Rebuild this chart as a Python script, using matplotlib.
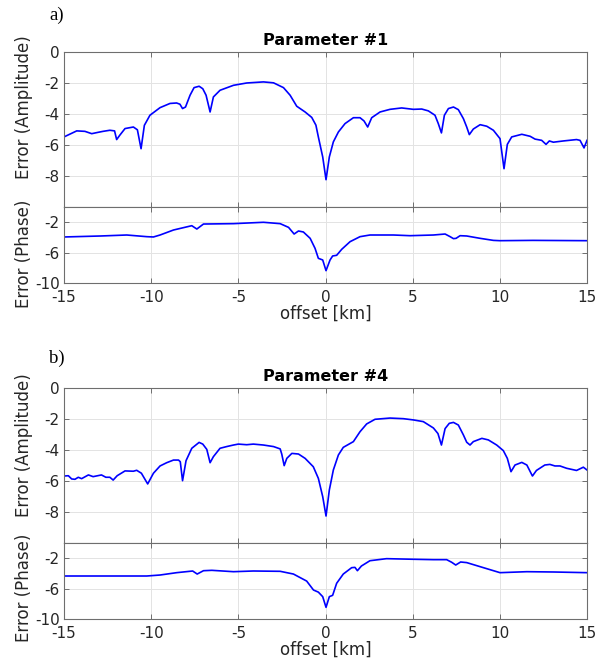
import matplotlib
matplotlib.use("Agg")
import matplotlib.pyplot as plt
import numpy as np

# ---------------- data ----------------
# Panel a) Parameter #1, amplitude error
a_amp_x = [-15, -14.27, -13.8, -13.41, -13.03, -12.76, -12.37, -12.1, -11.98, -11.8, -11.5,
           -11.02, -10.79, -10.58, -10.39, -10.07, -9.49, -8.92, -8.54, -8.35, -8.2, -8.03,
           -7.77, -7.54, -7.25, -7.04, -6.85, -6.62, -6.43, -6.05, -5.28, -4.52, -3.56, -2.98,
           -2.41, -2.03, -1.65, -1.17, -0.79, -0.55, -0.41, -0.16, 0.03, 0.22, 0.45, 0.74,
           1.12, 1.6, 1.98, 2.21, 2.42, 2.65, 3.13, 3.7, 4.37, 5.04, 5.52, 5.9, 6.28, 6.47,
           6.65, 6.82, 7.05, 7.34, 7.62, 7.91, 8.1, 8.25, 8.48, 8.87, 9.25, 9.63, 10.01,
           10.24, 10.43, 10.68, 11.26, 11.74, 12.02, 12.4, 12.65, 12.84, 13.07, 13.64, 14.4,
           14.6, 14.83, 15.0]
a_amp_y = [-5.46, -5.07, -5.1, -5.25, -5.16, -5.1, -5.03, -5.07, -5.63, -5.35, -4.92,
           -4.82, -5.0, -6.22, -4.71, -4.06, -3.57, -3.3, -3.27, -3.35, -3.63, -3.53,
           -2.77, -2.28, -2.19, -2.35, -2.77, -3.85, -2.88, -2.45, -2.13, -1.98, -1.91, -1.97,
           -2.28, -2.77, -3.48, -3.85, -4.2, -4.7, -5.46, -6.75, -8.22, -6.75, -5.78, -5.14,
           -4.6, -4.22, -4.22, -4.43, -4.82, -4.22, -3.85, -3.68, -3.59, -3.68, -3.66, -3.78,
           -4.06, -4.6, -5.2, -4.06, -3.63, -3.53, -3.7, -4.28, -4.82, -5.31, -4.95, -4.67,
           -4.77, -5.03, -5.57, -7.51, -5.94, -5.46, -5.29, -5.42, -5.6, -5.68, -5.94, -5.72,
           -5.8, -5.72, -5.63, -5.68, -6.17, -5.68]

# Panel a) Parameter #1, phase error
a_ph_x = [-15, -12.9, -11.4, -10.25, -9.87, -9.49, -8.72, -7.67, -7.38, -7.0, -5.28, -3.56,
          -2.6, -2.12, -1.8, -1.55, -1.27, -0.88, -0.6, -0.41, -0.16, 0.03, 0.26, 0.41,
          0.64, 0.93, 1.41, 1.98, 2.55, 3.9, 4.85, 6.19, 6.86, 7.15, 7.34, 7.49, 7.72, 8.1,
          8.87, 9.63, 10.0, 11.9, 15.0]
a_ph_y = [-3.92, -3.79, -3.66, -3.88, -3.92, -3.66, -3.0, -2.43, -2.87, -2.21, -2.16, -1.98,
          -2.16, -2.65, -3.53, -3.13, -3.26, -4.1, -5.42, -6.74, -6.96, -8.37, -6.96, -6.43,
          -6.34, -5.55, -4.54, -3.88, -3.66, -3.66, -3.75, -3.66, -3.53, -3.88, -4.14, -4.1,
          -3.75, -3.79, -4.1, -4.37, -4.41, -4.37, -4.41]

# Panel b) Parameter #4, amplitude error
b_amp_x = [-15, -14.75, -14.56, -14.37, -14.18, -13.99, -13.6, -13.33, -12.85, -12.6, -12.37,
           -12.18, -11.95, -11.5, -11.02, -10.83, -10.56, -10.2, -9.87, -9.49, -9.11, -8.72,
           -8.43, -8.33, -8.2, -8.0, -7.67, -7.25, -7.04, -6.81, -6.62, -6.43, -6.05, -5.67,
           -5.28, -5.0, -4.52, -4.14, -3.56, -2.98, -2.6, -2.51, -2.37, -2.22, -1.93, -1.55,
           -1.17, -0.7, -0.41, -0.16, 0.03, 0.22, 0.45, 0.74, 1.02, 1.6, 1.98, 2.36, 2.84,
           3.7, 4.47, 5.04, 5.61, 6.19, 6.45, 6.65, 6.86, 7.1, 7.34, 7.62, 7.91, 8.1, 8.29,
           8.48, 8.97, 9.34, 9.82, 10.2, 10.43, 10.64, 10.87, 11.26, 11.55, 11.87, 12.1,
           12.58, 12.87, 13.16, 13.45, 13.83, 14.4, 14.79, 15.0]
b_amp_y = [-5.66, -5.64, -5.85, -5.87, -5.74, -5.83, -5.59, -5.7, -5.59, -5.74, -5.74,
           -5.92, -5.64, -5.33, -5.35, -5.29, -5.48, -6.17, -5.48, -5.01, -4.8, -4.63,
           -4.63, -4.74, -5.96, -4.67, -3.87, -3.49, -3.6, -3.94, -4.8, -4.41, -3.87, -3.76,
           -3.66, -3.6, -3.64, -3.6, -3.66, -3.76, -3.91, -4.24, -4.99, -4.52, -4.2, -4.24,
           -4.52, -5.06, -5.81, -6.99, -8.24, -6.56, -5.27, -4.3, -3.81, -3.44, -2.8, -2.3,
           -2.0, -1.92, -1.96, -2.04, -2.15, -2.56, -2.92, -3.66, -2.6, -2.26, -2.2, -2.37,
           -3.01, -3.48, -3.66, -3.44, -3.23, -3.33, -3.66, -4.02, -4.52, -5.38, -4.95,
           -4.78, -4.95, -5.66, -5.3, -4.95, -4.91, -5.01, -5.01, -5.16, -5.3, -5.09, -5.27]

# Panel b) Parameter #4, phase error
b_ph_x = [-15, -12.9, -10.25, -9.49, -8.54, -7.62, -7.36, -7.0, -6.52, -5.28, -4.14, -2.6,
          -1.84, -1.08, -0.69, -0.41, -0.16, 0.03, 0.22, 0.41, 0.64, 1.02, 1.5, 1.69, 1.83,
          2.06, 2.55, 3.5, 5.04, 6.19, 6.95, 7.24, 7.47, 7.75, 8.1, 9.06, 10.01, 11.55,
          13.07, 15.0]
b_ph_y = [-4.32, -4.32, -4.32, -4.19, -3.88, -3.66, -4.06, -3.62, -3.57, -3.75, -3.66, -3.7,
          -4.06, -4.99, -6.17, -6.45, -7.05, -8.46, -7.05, -6.87, -5.28, -4.06, -3.22, -3.18,
          -3.62, -3.0, -2.3, -2.03, -2.11, -2.16, -2.16, -2.51, -2.87, -2.47, -2.55, -3.22,
          -3.88, -3.75, -3.79, -3.88]

titles = ["Parameter #1", "Parameter #4"]
panel_labels = ["a)", "b)"]
x_ticks = [-15, -10, -5, 0, 5, 10, 15]
amp_ticks = [-8, -6, -4, -2, 0]
ph_ticks = [-10, -6, -2]

# ---------------- figure ----------------
plt.rcParams['font.family'] = ['DejaVu Sans']
plt.rcParams['axes.unicode_minus'] = False

W, H = 611, 666
fig = plt.figure(figsize=(W / 100, H / 100), dpi=100)

spine_c = '#6e6e6e'
grid_c = '#e3e3e3'
text_c = '#262626'
line_c = '#0000ff'


def px_rect(left, top, right, bottom):
    return [left / W, 1 - bottom / H, (right - left) / W, (bottom - top) / H]


def style(ax, yticks, show_xlabels):
    ax.set_xlim(-15, 15)
    ax.set_ylim(-10, 0)
    ax.set_xticks(x_ticks)
    ax.set_yticks(yticks)
    ax.grid(True, color=grid_c, linewidth=0.7)
    ax.set_axisbelow(True)
    for s in ax.spines.values():
        s.set_color(spine_c)
        s.set_linewidth(0.8)
    ax.tick_params(direction='in', length=3.6, width=0.7, color=spine_c,
                   top=True, right=True, labelsize=11, labelcolor=text_c, pad=3)
    ax.tick_params(axis='x', pad=5)
    if not show_xlabels:
        ax.tick_params(labelbottom=False)


# (amp x, amp y, phase x, phase y, amp top px, phase top px, phase bottom px,
#  amp ylabel centre px, phase ylabel centre px, panel label centre px)
panels = [
    (a_amp_x, a_amp_y, a_ph_x, a_ph_y, 52.3, 207.3, 283.0, 107.5, 254.0, 15.0),
    (b_amp_x, b_amp_y, b_ph_x, b_ph_y, 388.3, 543.3, 619.0, 445.5, 587.5, 358.5),
]

for i, (ax_, ay_, px_, py_, t_amp, t_ph, b_ph, yl_a, yl_p, pl_y) in enumerate(panels):
    ax1 = fig.add_axes(px_rect(64, t_amp, 587, t_ph))
    ax2 = fig.add_axes(px_rect(64, t_ph, 587, b_ph))
    ax1.plot(ax_, ay_, color=line_c, linewidth=1.2)
    ax2.plot(px_, py_, color=line_c, linewidth=1.2)
    style(ax1, amp_ticks, False)
    style(ax2, ph_ticks, True)
    ax1.set_title(titles[i], fontsize=11.5, fontweight='bold', pad=5, color='black')
    fig.text(24 / W, 1 - yl_a / H, "Error (Amplitude)", fontsize=12, color=text_c,
             rotation=90, ha='center', va='center')
    fig.text(24 / W, 1 - yl_p / H, "Error (Phase)", fontsize=12, color=text_c,
             rotation=90, ha='center', va='center')
    ax2.set_xlabel("offset [km]", fontsize=12, color=text_c, labelpad=0)
    fig.text(49 / W, 1 - pl_y / H, panel_labels[i], fontsize=13.5,
             family='Liberation Serif', ha='left', va='center', color='black')

fig.savefig("out.png", dpi=100)
